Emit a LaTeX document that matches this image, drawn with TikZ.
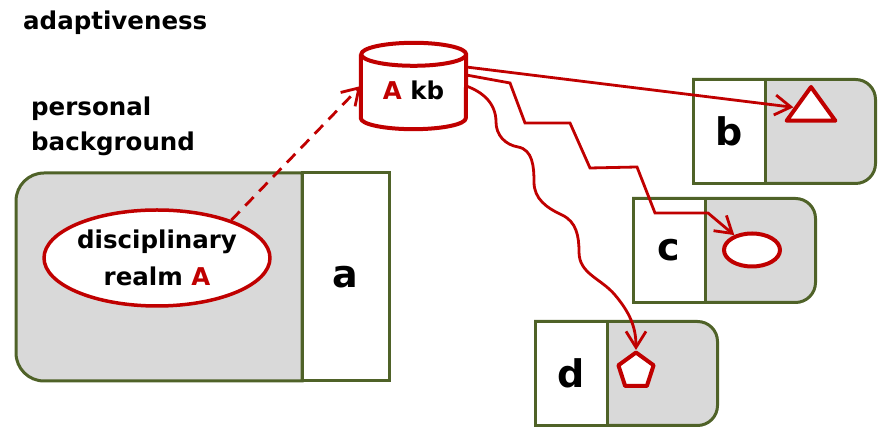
\documentclass[tikz,border=0pt]{standalone}
\usepackage{fontspec}
\setmainfont{DejaVu Sans}
\usepackage{xcolor}
\definecolor{carteRouge}{HTML}{C00000}
\definecolor{carteVert}{HTML}{4F6228}
\definecolor{carteGris}{HTML}{D9D9D9}
\usepackage{tikz}
\usetikzlibrary{arrows.meta, shapes.geometric}
\tikzset{
  %% ── Cartes ───────────────────────────────────────────────────────────
  %% The grey pane is rounded on its free side only; the white letter cell
  %% is laid on top of its square side.
  volet/.style      = {draw=carteVert, fill=carteGris, line width=3pt},
  caseLettre/.style = {draw=carteVert, fill=white, line width=3pt,
                       inner sep=0pt, minimum width=71.5pt,
                       minimum height=104pt,
                       font=\fontsize{38}{40}\selectfont\bfseries},
  forme/.style      = {draw=carteRouge, fill=white, line width=4pt,
                       inner sep=0pt, line join=round},
  %%
  %% ── Fleches ──────────────────────────────────────────────────────────
  pointe/.tip       = {Straight Barb[length=16pt, width=20pt]},
  fleche/.style     = {-pointe, draw=carteRouge, line width=2.8pt},
  flecheTirets/.style = {fleche, dash pattern=on 12pt off 8pt},
  %%
  %% ── Texte ────────────────────────────────────────────────────────────
  titre/.style      = {font=\fontsize{24.5}{35}\selectfont\bfseries,
                       inner sep=0pt, align=left},
}

\begin{document}
\begin{tikzpicture}[x=1pt, y=1pt]
\useasboundingbox (0,0) rectangle (880,427);

\node[titre, anchor=base west] (adapt) at (23,397) {adaptiveness};
\node[titre, anchor=north west] (perso) at (31,330) {personal\\background};

%% La carte personnelle, avec son domaine disciplinaire.
\draw[volet] (302,254) -- (44,254) arc[start angle=90, end angle=180, radius=28pt]
  -- (16,74) arc[start angle=180, end angle=270, radius=28pt] -- (302,46) -- cycle;
\node[caseLettre, minimum width=87pt, minimum height=208pt] (a) at (345.5,150) {a};
\node[forme, line width=3.5pt, ellipse, minimum width=203pt, minimum height=96pt,
      align=center, font=\fontsize{24.5}{37}\selectfont\bfseries] (realm) at (157,169)
     {disciplinary\\realm \textcolor{carteRouge}{A}};

%% Les trois cartes cibles.
\foreach \nom/\x/\y in {b/693.5/295.5, c/633.5/176.5, d/535.5/53.5} {
  \draw[volet] (\x,\y+52) -- (\x+162,\y+52) arc[start angle=90, end angle=0, radius=20pt]
    -- (\x+182,\y-32) arc[start angle=0, end angle=-90, radius=20pt] -- (\x,\y-52) -- cycle;
  \node[caseLettre] (\nom) at (\x+35.75,\y) {\nom};
}

\node[forme, regular polygon, regular polygon sides=3, minimum size=45pt,
      xscale=1.25, transform shape] (tri) at (811,317.5) {};
\node[forme, ellipse, minimum width=56pt, minimum height=33pt] (oval) at (752,177) {};
\node[forme, regular polygon, regular polygon sides=5, minimum size=37pt] (penta) at (636,56) {};

%% La base de connaissances.
\node[minimum width=105pt, minimum height=86pt, inner sep=0pt] (kb) at (413.5,341) {};
\draw[forme] ([yshift=-11.5pt]kb.north west) -- ([yshift=11pt]kb.south west)
  arc[start angle=180, end angle=360, x radius=52.5pt, y radius=11pt]
  -- ([yshift=-11.5pt]kb.north east)
  arc[start angle=0, end angle=360, x radius=52.5pt, y radius=11.5pt];
\node[titre] (kbTexte) at ([yshift=-4pt]kb.center) {\textcolor{carteRouge}{A} kb};

\draw[flecheTirets] (realm.27) -- (kb.west);
\draw[fleche] ([yshift=19pt]kb.east) -- (tri);
\draw[fleche] ([yshift=11pt]kb.east) -- (510,344) -- (525,304) -- (570,304)
  -- (590,259) -- (637,260) -- (655,214) -- (708,214) -- (oval);
\draw[fleche] (kb.east) to[out=-20, in=90] (496,305) to[out=-90, in=170] (518,280)
  to[out=-10, in=90] (534,245) to[out=-90, in=155] (562,212)
  to[out=-25, in=90] (579,175) to[out=-90, in=130] (615,132)
  to[out=-50, in=90] (penta);

\end{tikzpicture}
\end{document}
